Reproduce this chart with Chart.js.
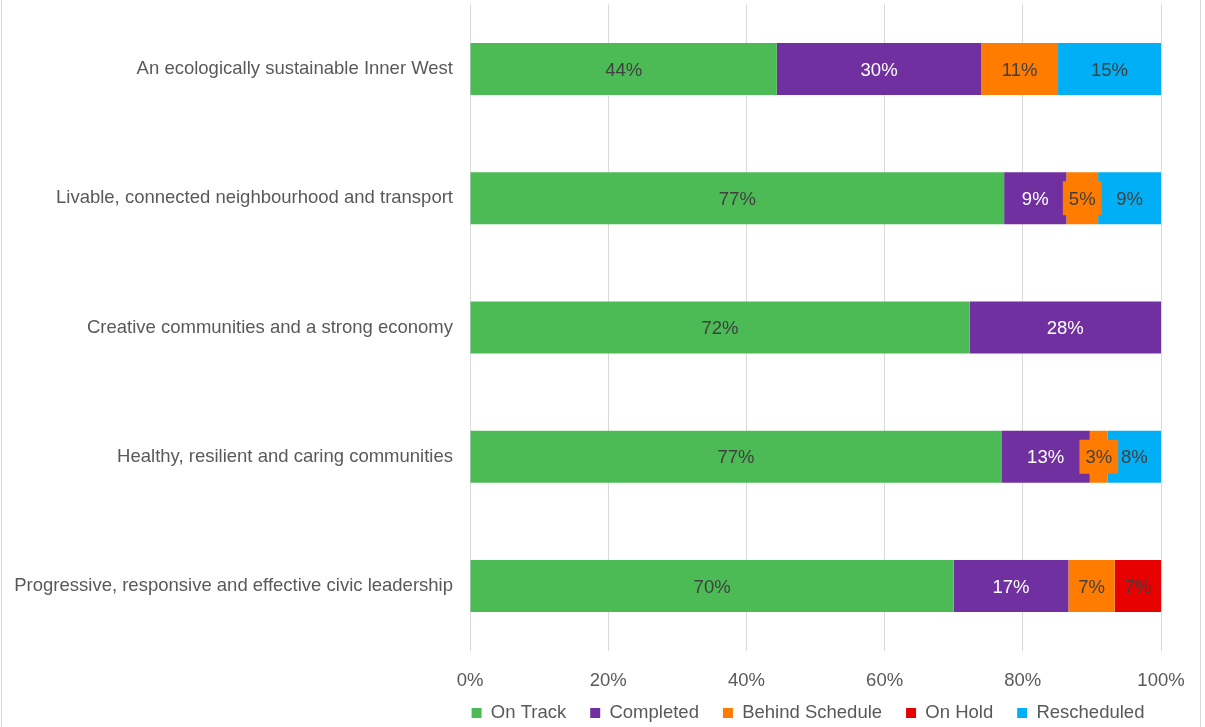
<!DOCTYPE html>
<html>
<head>
<meta charset="utf-8">
<title>Delivery program status by strategic direction</title>
<script src="https://cdn.jsdelivr.net/npm/chart.js@4"></script>
<style>
  html, body { margin: 0; padding: 0; background: #fff; }
  #wrap { position: relative; width: 1205px; height: 727px; }
  #frame {
    position: absolute; left: 1px; top: 0; width: 1200px; height: 727px;
    border-left: 1px solid #d9d9d9; border-right: 1px solid #d9d9d9;
    box-sizing: border-box; pointer-events: none;
  }
</style>
</head>
<body>
<div id="wrap">
  <canvas id="statusChart" width="1205" height="727"></canvas>
  <div id="frame"></div>
</div>
<script>
const categories = [
  'An ecologically sustainable Inner West',
  'Livable, connected neighbourhood and transport',
  'Creative communities and a strong economy',
  'Healthy, resilient and caring communities',
  'Progressive, responsive and effective civic leadership'
];

// share of actions in each status, per strategic direction (%)
const onTrack        = [44.4, 77.3, 72.3, 76.9, 70.0];
const completed      = [29.6,  9.0, 27.7, 12.8, 16.6];
const behindSchedule = [11.1,  4.6,  0,    2.6,  6.7];
const onHold         = [ 0,    0,    0,    0,    6.7];
const rescheduled    = [14.9,  9.1,  0,    7.7,  0];

const xTicks = [0, 20, 40, 60, 80, 100];

const FONT = { family: '"Liberation Sans", Arial, sans-serif', size: 18.5 };
const GREY = '#595959';

function series(label, data, color, labelColor) {
  return {
    label: label,
    data: data,
    backgroundColor: color,
    borderWidth: 0,
    labelColor: labelColor,
    barPercentage: 0.402,
    categoryPercentage: 1
  };
}

// centre the legend row under the plot rather than the whole canvas
const legendShift = {
  id: 'legendShift',
  afterLayout(chart) {
    const lg = chart.legend;
    const area = chart.chartArea;
    const dx = (area.left + area.right) / 2 - 7.5 - (lg.left + lg.right) / 2;
    lg.left += dx;
    lg.right += dx;
    const h = lg.height;
    lg.top = 713 - lg.options.labels.padding - FONT.size / 2;
    lg.bottom = lg.top + h;
  }
};

// percentage labels in the middle of each segment, on a box of the series colour
const segmentLabels = {
  id: 'segmentLabels',
  afterDatasetsDraw(chart) {
    const ctx = chart.ctx;
    const items = [];
    chart.data.datasets.forEach(function (ds, di) {
      chart.getDatasetMeta(di).data.forEach(function (bar, i) {
        const v = ds.data[i];
        if (!v) return;
        items.push({ ds: ds, x: (bar.x + bar.base) / 2, y: bar.y, text: Math.round(v) + '%' });
      });
    });
    ctx.save();
    ctx.font = FONT.size + 'px ' + FONT.family;
    ctx.textAlign = 'center';
    ctx.textBaseline = 'middle';
    items.slice().reverse().forEach(function (it) {
      const w = ctx.measureText(it.text).width + 12;
      ctx.fillStyle = it.ds.backgroundColor;
      ctx.fillRect(it.x - w / 2, it.y - 17, w, 34);
    });
    items.forEach(function (it) {
      ctx.fillStyle = it.ds.labelColor;
      ctx.fillText(it.text, it.x, it.y + 1.5);
    });
    ctx.restore();
  }
};

const ctx = document.getElementById('statusChart').getContext('2d');
const statusChart = new Chart(ctx, {
  type: 'bar',
  data: {
    labels: categories,
    datasets: [
      series('On Track', onTrack, '#4dbb55', '#404040'),
      series('Completed', completed, '#7030a0', '#ffffff'),
      series('Behind Schedule', behindSchedule, '#ff7c00', '#404040'),
      series('On Hold', onHold, '#e60000', '#404040'),
      series('Rescheduled', rescheduled, '#00aff5', '#404040')
    ]
  },
  options: {
    indexAxis: 'y',
    responsive: false,
    animation: false,
    events: [],
    layout: { padding: { top: 4.4, right: 44, left: 0, bottom: -21.6 } },
    scales: {
      x: {
        stacked: true,
        min: 0,
        max: 100,
        afterBuildTicks: function (axis) {
          axis.ticks = xTicks.map(function (v) { return { value: v }; });
        },
        afterFit: function (axis) { axis.height = 45.5; },
        grid: { color: '#d9d9d9', lineWidth: 1, drawTicks: false },
        border: { display: false },
        ticks: {
          padding: 19.5,
          color: GREY,
          font: FONT,
          maxRotation: 0,
          callback: function (v) { return v + '%'; }
        }
      },
      y: {
        stacked: true,
        afterFit: function (axis) {
          axis.width = 470;
          axis.paddingTop = 0;
          axis.paddingBottom = 0;
        },
        grid: { display: false, drawTicks: false },
        border: { display: false },
        ticks: { padding: 17, color: GREY, font: FONT }
      }
    },
    plugins: {
      legend: {
        position: 'bottom',
        labels: {
          boxWidth: 10,
          boxHeight: 10,
          padding: 24,
          color: GREY,
          font: FONT
        }
      },
      tooltip: { enabled: false }
    }
  },
  plugins: [legendShift, segmentLabels]
});
</script>
</body>
</html>
